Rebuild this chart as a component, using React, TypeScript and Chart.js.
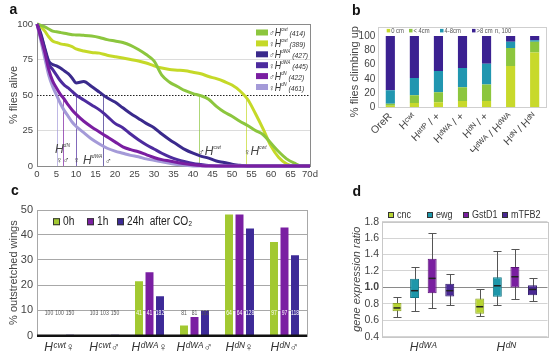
import React, { useEffect, useRef } from 'react';
import { Chart, registerables } from 'chart.js';

Chart.register(...registerables);

const FONT = '"Liberation Sans", Arial, sans-serif';
Chart.defaults.font.family = FONT;
Chart.defaults.color = '#444';

// ---------------- Panel a: survival ----------------
const surviveDays = [0, 1, 2, 3, 4, 5, 6, 7, 8, 9, 10, 12, 14, 16, 18, 20, 22, 24, 26, 28, 30, 32, 34, 36, 38, 40, 42, 44, 46, 48, 50, 52, 54, 56, 58, 60, 62, 64, 66, 68, 70];
const aliveCwtMale = [100, 99, 98, 96.5, 95, 94.5, 94, 93.5, 93, 92.5, 92.3, 92, 91.5, 90.5, 89, 88, 87, 85, 82, 78.5, 74, 64, 59, 56, 53, 51, 49.5, 47, 42, 38, 35, 31.5, 28.5, 25, 22, 16, 10, 5, 2, 0, 0];
const aliveCwtFemale = [100, 98, 95, 91, 88, 87, 86, 85.5, 85, 84, 82.5, 81, 80, 79.5, 78, 77, 76, 75, 74, 72.5, 70.5, 69, 68, 67.5, 67, 66, 65, 63, 61.5, 59.5, 57, 53, 47, 37, 26, 14, 6, 1.5, 0, 0, 0];
const aliveDWAMale = [100, 93, 83, 74, 71.5, 70.5, 69, 67, 65, 62, 58.5, 59.5, 56, 52, 48, 45, 41, 37, 33.5, 30, 27, 22.5, 18.5, 15, 11.5, 9, 7, 5.5, 3.5, 2.5, 1.2, 0.5, 0, 0, 0, 0, 0, 0, 0, 0, 0];
const aliveDWAFemale = [100, 92, 82, 72, 68, 64, 60, 57, 55, 52.5, 50, 46.5, 43, 39.5, 35, 30, 27, 22.5, 18.5, 15, 12, 9, 6.5, 4.5, 3, 1.8, 1, 0.3, 0, 0, 0, 0, 0, 0, 0, 0, 0, 0, 0, 0, 0];
const aliveDNMale = [100, 90, 80, 68, 60, 55, 50.5, 47, 43, 39.5, 36.5, 31.5, 27.5, 24, 20.5, 17, 13.5, 11.5, 10, 8, 6, 4.5, 3.5, 2.5, 1.5, 0.8, 0.3, 0, 0, 0, 0, 0, 0, 0, 0, 0, 0, 0, 0, 0, 0];
const aliveDNFemale = [100, 88, 76, 64, 56, 50, 44, 39, 35, 31, 28, 23.5, 19, 15.5, 12.5, 10.5, 9, 7.5, 6.5, 5, 4, 3, 2, 1, 0.5, 0, 0, 0, 0, 0, 0, 0, 0, 0, 0, 0, 0, 0, 0, 0, 0];
const survValues = [aliveCwtMale, aliveCwtFemale, aliveDWAMale, aliveDWAFemale, aliveDNMale, aliveDNFemale];
const survSex = ['♂', '♀', '♂', '♀', '♂', '♀'];
const survAllele = ['cwt', 'cwt', 'dWA', 'dWA', 'dN', 'dN'];
const survN = [414, 389, 427, 445, 422, 461];
const survMedian = [41.5, 53.5, 16.8, 10, 6.6, 5.1];
const survColors = ['#8cc63e', '#c5d928', '#3a2a8c', '#4d2b9e', '#7a1ea1', '#a49ad8'];
const survOrder = [5, 6, 3, 4, 0, 2];

// ---------------- Panel b: climbing ----------------
const climbLines = ['OreR', 'Hᶜʷᵗ', 'Hᵃᵗᵗᴾ / +', 'Hᵈᵂᴬ / +', 'Hᵈᴺ / +', 'Hᵈᵂᴬ / Hᵈᵂᴬ', 'Hᵈᴺ / Hᵈᴺ'];
const climb0cm = [2, 6, 7, 9, 9, 58, 77];
const climbUnder4 = [3, 11, 14, 19, 23, 25, 15];
const climb4to8 = [19, 24, 30, 27, 29, 9, 2];
const climbOver8 = [76, 59, 49, 45, 39, 8, 6];
const climbNames = ['0 cm', '< 4cm', '4-8cm', '>8 cm'];
const climbColors = ['#c8d92b', '#8cc63e', '#2196b0', '#3b2191'];

// ---------------- Panel c: wings ----------------
const wingGroups = ['Hᶜʷᵗ♀', 'Hᶜʷᵗ♂', 'Hᵈᵂᴬ♀', 'Hᵈᵂᴬ♂', 'Hᵈᴺ♀', 'Hᵈᴺ♂'];
const wings0h = [0, 0, 21.6, 4, 48, 37.1];
const wings1h = [0, 0, 25.1, 7.4, 48, 42.9];
const wings24h = [0.4, 0.4, 15.6, 9.9, 42.5, 31.9];
const wingsN0h = [100, 103, 41, 81, 64, 97];
const wingsN1h = [100, 103, 41, 81, 64, 97];
const wingsN24h = [150, 150, 182, 192, 128, 118];
const wingNames = ['0h', '1h', '24h  after CO₂'];
const wingColors = ['#a2c931', '#7a1fa2', '#3d2a97'];

// ---------------- Panel d: expression ----------------
const exprGroups = ['Hᵈᵂᴬ', 'Hᵈᴺ'];
const exprGenes = ['cnc', 'ewg', 'GstD1', 'mTFB2'];
const exprMin = [[0.64, 0.65], [0.71, 0.78], [0.75, 0.855], [0.78, 0.83]];
const exprQ1 = [[0.71, 0.68], [0.87, 0.885], [0.93, 1.0], [0.89, 0.905]];
const exprMedian = [[0.75, 0.765], [0.96, 1.02], [1.11, 1.13], [0.96, 0.975]];
const exprQ3 = [[0.81, 0.865], [1.105, 1.125], [1.35, 1.25], [1.045, 1.025]];
const exprMax = [[0.885, 0.975], [1.245, 1.445], [1.665, 1.47], [1.165, 1.115]];
const exprColors = ['#b7d433', '#1d97aa', '#7a1fa0', '#4a2994'];
const exprBorders = ['#8ea52a', '#167785', '#5c1579', '#36206f'];

// ---------------- helpers ----------------
type Seg = { t: string; size: number; italic?: boolean; bold?: boolean; dy?: number; color?: string };

function drawSegs(ctx: CanvasRenderingContext2D, x: number, y: number, segs: Seg[], align: 'left' | 'center' | 'right' = 'left', baseline: CanvasTextBaseline = 'alphabetic', sx = 1) {
  ctx.save();
  ctx.textBaseline = baseline;
  ctx.textAlign = 'left';
  const fontOf = (s: Seg) => `${s.italic ? 'italic ' : ''}${s.bold ? 'bold ' : ''}${s.size}px ${FONT}`;
  let total = 0;
  for (const s of segs) {
    ctx.font = fontOf(s);
    total += ctx.measureText(s.t).width;
  }
  const w = total * sx;
  const start = align === 'left' ? x : align === 'center' ? x - w / 2 : x - w;
  ctx.translate(start, y);
  ctx.scale(sx, 1);
  let cx = 0;
  for (const s of segs) {
    ctx.font = fontOf(s);
    ctx.fillStyle = s.color || '#333';
    ctx.fillText(s.t, cx, s.dy || 0);
    cx += ctx.measureText(s.t).width;
  }
  ctx.restore();
}

function hexA(hex: string, a: number) {
  const n = parseInt(hex.slice(1), 16);
  return `rgba(${(n >> 16) & 255},${(n >> 8) & 255},${n & 255},${a})`;
}

function frame(chart: any, color: string, extraTop = 0) {
  const { ctx, chartArea: ca } = chart;
  ctx.save();
  ctx.strokeStyle = color;
  ctx.lineWidth = 1;
  const t = Math.round(ca.top - extraTop);
  ctx.strokeRect(Math.round(ca.left) + 0.5, t + 0.5, Math.round(ca.right - ca.left), Math.round(ca.bottom) - t);
  ctx.restore();
}

const noLegend = { legend: { display: false }, tooltip: { enabled: false } };

// ---------------- builders ----------------
function buildSurvival(): any {
  const deco = {
    id: 'survDeco',
    beforeDatasetsDraw(chart: any) {
      const { ctx, chartArea: ca, scales } = chart;
      const x = scales.x, y = scales.y;
      frame(chart, '#8a8a8a');
      ctx.save();
      survMedian.forEach((m, i) => {
        const px = Math.round(x.getPixelForValue(m)) + 0.5;
        ctx.strokeStyle = hexA(survColors[i], 0.7);
        ctx.lineWidth = 1;
        ctx.beginPath();
        ctx.moveTo(px, y.getPixelForValue(50));
        ctx.lineTo(px, y.getPixelForValue(0));
        ctx.stroke();
      });
      const py = Math.round(y.getPixelForValue(50)) + 0.5;
      ctx.strokeStyle = '#222';
      ctx.setLineDash([1.5, 1.5]);
      ctx.beginPath();
      ctx.moveTo(ca.left, py);
      ctx.lineTo(ca.right, py);
      ctx.stroke();
      ctx.restore();
    },
    afterDatasetsDraw(chart: any) {
      const { ctx, chartArea: ca, scales } = chart;
      const x = scales.x, y = scales.y;
      survAllele.forEach((a, i) => {
        const cy = ca.top + 8.5 + i * 10.9;
        const rx = ca.right - 54;
        ctx.fillStyle = survColors[i];
        ctx.fillRect(rx, cy - 3, 12, 6);
        drawSegs(ctx, rx + 13, cy + 3.5, [
          { t: survSex[i], size: 9, color: '#444' },
          { t: 'H', size: 10.5, italic: true, color: '#333' },
          { t: a, size: 5, italic: true, dy: -5, color: '#333' },
          { t: ' (' + survN[i] + ')', size: 8, italic: true, color: '#333' },
        ], 'left', 'alphabetic', 0.85);
      });
      const col = '#444';
      const P = (d: number, v: number) => [x.getPixelForValue(d), y.getPixelForValue(v)];
      let p = P(4.6, 9);
      drawSegs(ctx, p[0], p[1], [{ t: 'H', size: 12, italic: true, color: col }, { t: 'dN', size: 5, italic: true, dy: -6, color: col }]);
      p = P(4.9, 2);
      drawSegs(ctx, p[0], p[1], [{ t: '♀♂', size: 9, color: col }]);
      p = P(9.3, 2);
      drawSegs(ctx, p[0], p[1], [{ t: '♀', size: 9, color: col }]);
      p = P(11.8, 1.5);
      drawSegs(ctx, p[0], p[1], [{ t: 'H', size: 12, italic: true, color: col }, { t: 'dWA', size: 5, italic: true, dy: -6, color: col }, { t: ' ♂', size: 9, color: col }]);
      p = P(41.3, 8);
      drawSegs(ctx, p[0], p[1], [{ t: '♂', size: 9, color: col }, { t: 'H', size: 12, italic: true, color: col }, { t: 'cwt', size: 5, italic: true, dy: -6, color: col }]);
      p = P(53, 8);
      drawSegs(ctx, p[0], p[1], [{ t: '♀', size: 9, color: col }, { t: 'H', size: 12, italic: true, color: col }, { t: 'cwt', size: 5, italic: true, dy: -6, color: col }]);
    },
  };
  return {
    type: 'line',
    data: {
      datasets: survAllele.map((a, i) => ({
        label: survSex[i] + 'H' + a,
        data: surviveDays.map((d, k) => ({ x: d, y: survValues[i][k] })),
        borderColor: survColors[i],
        backgroundColor: survColors[i],
        borderWidth: 3,
        pointRadius: 0,
        cubicInterpolationMode: 'monotone',
        order: survOrder[i],
        clip: 4,
      })),
    },
    options: {
      responsive: false,
      animation: false,
      layout: { padding: { top: 24, right: 20, left: 0, bottom: 0 } },
      plugins: noLegend,
      scales: {
        x: {
          type: 'linear', min: 0, max: 70,
          afterFit: (s: any) => { s.height = 16; },
          grid: { display: false, drawTicks: false },
          border: { display: false },
          ticks: { stepSize: 5, autoSkip: false, maxRotation: 0, padding: 3, color: '#444', font: { size: 9.5 }, callback: (v: any) => (v === 70 ? '70d' : String(v)) },
        },
        y: {
          min: 0, max: 100,
          afterFit: (s: any) => { s.width = 37; },
          grid: { drawTicks: false, color: (c: any) => (c.tick && (c.tick.value === 25 || c.tick.value === 75) ? '#dcdcdc' : 'transparent') },
          border: { display: false },
          ticks: { stepSize: 25, autoSkip: false, padding: 4, color: '#444', font: { size: 9.5 } },
          title: { display: true, text: '% flies alive', color: '#444', font: { size: 11 }, padding: { top: 7, bottom: 0 } },
        },
      },
    },
    plugins: [deco],
  };
}

function buildClimbing(): any {
  const deco = {
    id: 'climbDeco',
    beforeDatasetsDraw(chart: any) { frame(chart, '#cfcfcf', 9.3); },
    afterDatasetsDraw(chart: any) {
      const { ctx, chartArea: ca } = chart;
      const cy = ca.top - 5.3;
      const xs = [8.4, 30.7, 61.7, 93.7];
      climbNames.forEach((n, i) => {
        ctx.fillStyle = climbColors[i];
        ctx.fillRect(ca.left + xs[i], cy - 1.8, 3.5, 3.5);
        drawSegs(ctx, ca.left + xs[i] + 4.5, cy, [{ t: n, size: 7.5, color: '#555' }], 'left', 'middle', 0.78);
      });
      drawSegs(ctx, ca.left + 116.7, cy, [{ t: 'n, 100', size: 7.5, color: '#555' }], 'left', 'middle', 0.78);
    },
  };
  const sets = [climb0cm, climbUnder4, climb4to8, climbOver8];
  return {
    type: 'bar',
    data: {
      labels: climbLines,
      datasets: sets.map((d, i) => ({ label: climbNames[i], data: d, backgroundColor: climbColors[i], categoryPercentage: 1, barPercentage: 0.38 })),
    },
    options: {
      responsive: false,
      animation: false,
      layout: { padding: { top: 36, right: 3.3, left: 0, bottom: 0 } },
      plugins: noLegend,
      scales: {
        x: {
          stacked: true,
          afterFit: (s: any) => { s.height = 152 - 107.3; },
          grid: { display: false, drawTicks: false },
          border: { display: false },
          ticks: { minRotation: 45, maxRotation: 45, autoSkip: false, padding: 3, color: '#444', font: { size: 10.5 } },
        },
        y: {
          stacked: true, min: 0, max: 100,
          afterFit: (s: any) => { s.width = 48.3; },
          grid: { display: false, drawTicks: false },
          border: { display: false },
          ticks: { stepSize: 20, autoSkip: false, padding: 3, color: '#444', font: { size: 10 } },
          title: { display: true, text: '% flies climbing up', color: '#444', font: { size: 11 }, padding: { top: 18, bottom: 0 } },
        },
      },
    },
    plugins: [deco],
  };
}

function buildWings(): any {
  const counts = [wingsN0h, wingsN1h, wingsN24h];
  const vals = [wings0h, wings1h, wings24h];
  const deco = {
    id: 'wingDeco',
    beforeDatasetsDraw(chart: any) { frame(chart, '#a8a8a8'); },
    afterDatasetsDraw(chart: any) {
      const { ctx, chartArea: ca, scales } = chart;
      const y = scales.y;
      ctx.save();
      ctx.strokeStyle = '#111';
      ctx.lineWidth = 2.5;
      ctx.beginPath();
      ctx.moveTo(ca.left, y.getPixelForValue(0));
      ctx.lineTo(ca.right, y.getPixelForValue(0));
      ctx.stroke();
      ctx.restore();
      counts.forEach((arr, i) => {
        const meta = chart.getDatasetMeta(i);
        arr.forEach((n, j) => {
          const el = meta.data[j];
          const inside = vals[i][j] > 10.5;
          drawSegs(ctx, el.x, y.getPixelForValue(9), [{ t: String(n), size: 7, color: inside ? '#fff' : '#555' }], 'center', 'middle', 0.72);
        });
      });
      const cy = ca.top + 12.2;
      const xs = [16, 50, 80];
      wingNames.forEach((n, i) => {
        ctx.fillStyle = wingColors[i];
        ctx.fillRect(ca.left + xs[i], cy - 3.5, 7, 7);
        ctx.strokeStyle = '#333';
        ctx.lineWidth = 1;
        ctx.strokeRect(ca.left + xs[i] + 0.5, cy - 3.5 + 0.5, 6, 6);
        drawSegs(ctx, ca.left + xs[i] + 10, cy, [{ t: n, size: 12, color: '#222' }], 'left', 'middle', 0.85);
      });
    },
  };
  return {
    type: 'bar',
    data: {
      labels: wingGroups,
      datasets: vals.map((d, i) => ({ label: wingNames[i], data: d, backgroundColor: wingColors[i], categoryPercentage: 0.7, barPercentage: 0.76 })),
    },
    options: {
      responsive: false,
      animation: false,
      layout: { padding: { top: 29.5, right: 13, left: 0, bottom: 0 } },
      plugins: noLegend,
      scales: {
        x: {
          afterFit: (s: any) => { s.height = 176 - 155.7; },
          grid: { display: false, drawTicks: false },
          border: { display: false },
          ticks: { padding: 5, color: '#333', font: { size: 12, style: 'italic' } },
        },
        y: {
          min: 0, max: 50,
          afterFit: (s: any) => { s.width = 37; },
          grid: { drawTicks: false, color: (c: any) => (c.tick && (c.tick.value === 0 || c.tick.value === 50) ? 'transparent' : '#a8a8a8') },
          border: { display: false },
          ticks: { stepSize: 10, autoSkip: false, padding: 4, color: '#444', font: { size: 11 } },
          title: { display: true, text: '% outstretched wings', color: '#444', font: { size: 11 }, padding: { top: 7, bottom: 0 } },
        },
      },
    },
    plugins: [deco],
  };
}

function buildExpression(): any {
  const deco = {
    id: 'exprDeco',
    beforeDatasetsDraw(chart: any) {
      const { ctx, scales } = chart;
      const y = scales.y;
      frame(chart, '#c8c8c8');
      ctx.save();
      ctx.strokeStyle = '#555';
      ctx.lineWidth = 1;
      exprGenes.forEach((g, i) => {
        const meta = chart.getDatasetMeta(i);
        meta.data.forEach((el: any, j: number) => {
          const cx = Math.round(el.x) + 0.5;
          const yMin = Math.round(y.getPixelForValue(exprMin[i][j])) + 0.5;
          const yMax = Math.round(y.getPixelForValue(exprMax[i][j])) + 0.5;
          const hw = el.width * 0.45;
          ctx.beginPath();
          ctx.moveTo(cx, yMin); ctx.lineTo(cx, yMax);
          ctx.moveTo(cx - hw, yMin); ctx.lineTo(cx + hw, yMin);
          ctx.moveTo(cx - hw, yMax); ctx.lineTo(cx + hw, yMax);
          ctx.stroke();
        });
      });
      ctx.restore();
    },
    afterDatasetsDraw(chart: any) {
      const { ctx, chartArea: ca, scales } = chart;
      const y = scales.y;
      ctx.save();
      ctx.strokeStyle = '#222';
      ctx.lineWidth = 1.5;
      exprGenes.forEach((g, i) => {
        const meta = chart.getDatasetMeta(i);
        meta.data.forEach((el: any, j: number) => {
          const py = y.getPixelForValue(exprMedian[i][j]);
          ctx.beginPath();
          ctx.moveTo(el.x - el.width / 2 + 1, py);
          ctx.lineTo(el.x + el.width / 2 - 1, py);
          ctx.stroke();
        });
      });
      ctx.restore();
      const cy = ca.top - 6.7;
      const xs = [6, 45, 81, 120];
      exprGenes.forEach((g, i) => {
        ctx.fillStyle = exprColors[i];
        ctx.fillRect(ca.left + xs[i], cy - 3, 6, 6);
        ctx.strokeStyle = '#333';
        ctx.lineWidth = 1;
        ctx.strokeRect(ca.left + xs[i] + 0.5, cy - 2.5, 5, 5);
        drawSegs(ctx, ca.left + xs[i] + 9, cy, [{ t: g, size: 10, color: '#333' }], 'left', 'middle', 0.9);
      });
    },
  };
  return {
    type: 'bar',
    data: {
      labels: exprGroups,
      datasets: exprGenes.map((g, i) => ({
        label: g,
        data: exprGroups.map((_, j) => [exprQ1[i][j], exprQ3[i][j]]),
        backgroundColor: exprColors[i],
        borderColor: exprBorders[i],
        borderWidth: 1,
        borderSkipped: false,
        categoryPercentage: 0.85,
        barPercentage: 0.51,
      })),
    },
    options: {
      responsive: false,
      animation: false,
      layout: { padding: { top: 41.7, right: 2.5, left: 0, bottom: 0 } },
      plugins: noLegend,
      scales: {
        x: {
          afterFit: (s: any) => { s.height = 176 - 156.7; },
          grid: { display: false, drawTicks: false },
          border: { display: false },
          ticks: { padding: 4, color: '#333', font: { size: 12, style: 'italic' } },
        },
        y: {
          min: 0.4, max: 1.8,
          afterFit: (s: any) => { s.width = 32; },
          grid: { drawTicks: false, color: (c: any) => (c.tick && Math.abs(c.tick.value - 1) < 1e-6 ? '#8a8a8a' : '#d4d4d4') },
          border: { display: false },
          ticks: {
            stepSize: 0.2, autoSkip: false, padding: 3, color: '#444',
            font: (c: any) => ({ size: 10.5, weight: c.tick && Math.abs(c.tick.value - 1) < 1e-6 ? 'bold' : 'normal' }),
            callback: (v: any) => Number(v).toFixed(1),
          },
          title: { display: true, text: 'gene expression ratio', color: '#444', font: { size: 11, style: 'italic' }, padding: { top: 0, bottom: 0 } },
        },
      },
    },
    plugins: [deco],
  };
}

function ChartPanel({ left, top, width, height, build }: { left: number; top: number; width: number; height: number; build: () => any }) {
  const ref = useRef<HTMLCanvasElement>(null);
  useEffect(() => {
    const chart = new Chart(ref.current as HTMLCanvasElement, build());
    return () => chart.destroy();
  }, []);
  return <canvas ref={ref} width={width} height={height} style={{ position: 'absolute', left, top, width, height }} />;
}

const panelLabel = (left: number, top: number): React.CSSProperties => ({
  position: 'absolute', left, top, font: `bold 14px ${FONT}`, lineHeight: '14px', color: '#111',
});

export default function App() {
  return (
    <div style={{ position: 'fixed', left: 0, top: 0, width: 550, height: 356, background: '#fff', overflow: 'hidden' }}>
      <ChartPanel left={0} top={0} width={330} height={182} build={buildSurvival} />
      <ChartPanel left={330} top={0} width={220} height={152} build={buildClimbing} />
      <ChartPanel left={0} top={180} width={320} height={176} build={buildWings} />
      <ChartPanel left={350} top={180} width={200} height={176} build={buildExpression} />
      <div style={panelLabel(9.5, 2)}>a</div>
      <div style={panelLabel(352, 3)}>b</div>
      <div style={panelLabel(11, 183)}>c</div>
      <div style={panelLabel(352.5, 184)}>d</div>
    </div>
  );
}
